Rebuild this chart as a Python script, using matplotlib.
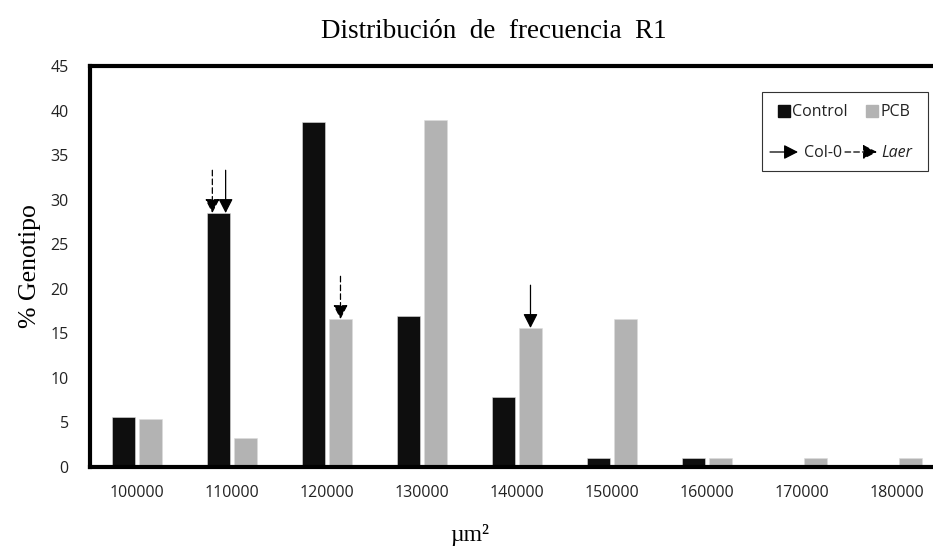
import matplotlib.pyplot as plt
from matplotlib.patches import Rectangle, FancyArrowPatch
import numpy as np

# area classes (um^2) and % of genotype per class
areas = ["100000", "110000", "120000", "130000", "140000",
         "150000", "160000", "170000", "180000"]
control = [5.6, 28.5, 38.7, 16.9, 7.9, 1.0, 1.0, 0.0, 0.0]
pcb = [5.4, 3.3, 16.6, 38.9, 15.6, 16.6, 1.0, 1.0, 1.0]

# arrows marking where each line falls: (class index, series, style, offset)
DASH = (0, (4.5, 2.5))
arrows = [
    (1, "control", DASH, -0.065),
    (1, "control", "solid", 0.075),
    (2, "pcb", DASH, 0.0),
    (4, "pcb", "solid", 0.0),
]

W, H = 933, 548
fig = plt.figure(figsize=(W / 100, H / 100), dpi=100)
ax = fig.add_axes([89.5 / W, 1 - 467 / H, (944.5 - 89.5) / W, (467 - 66) / H])

x = np.arange(len(areas))
off = 0.142
bw = 0.232
ctrl_col = "#0e0e0e"
pcb_col = "#b3b3b3"
ax.bar(x - off, control, bw, color=ctrl_col, edgecolor="#dddddd", linewidth=0.4)
ax.bar(x + off, pcb, bw, color=pcb_col, edgecolor="#dddddd", linewidth=0.4)

vals = {"control": control, "pcb": pcb}
for i, series, style, dx in arrows:
    sx = -off if series == "control" else off
    top = vals[series][i]
    xp = i + sx + dx
    arr = FancyArrowPatch((xp, top + 4.8), (xp, top),
                          arrowstyle="-|>,head_length=0.43,head_width=0.22",
                          mutation_scale=20, color="black", lw=0.9,
                          linestyle=style, shrinkA=0, shrinkB=0)
    ax.add_patch(arr)

ax.set_xlim(-0.5, len(areas) - 0.5)
ax.set_ylim(0, 45)
ax.set_yticks(range(0, 46, 5))
ax.set_xticks(x)
ax.set_xticklabels(areas)
ax.tick_params(length=0, labelsize=11.5, colors="#222222", pad=13)
ax.tick_params(axis="y", pad=15)
for lab in ax.get_xticklabels() + ax.get_yticklabels():
    lab.set_family("Open Sans")
for sp in ax.spines.values():
    sp.set_linewidth(3)
ax.spines["right"].set_visible(False)

ax.set_ylabel("% Genotipo", family="Liberation Serif", fontsize=18.5, labelpad=7)
fig.text(470 / W, 1 - 541 / H, "µm²", family="Liberation Serif", fontsize=17,
         ha="center", va="baseline")
fig.text(494 / W, 1 - 32 / H, "Distribución  de  frecuencia  R1",
         family="Liberation Serif", fontsize=19.5, ha="center", va="center")

# legend box drawn by hand
tf = fig.transFigure
def fx(px): return px / W
def fy(py): return 1 - py / H

fig.patches.append(Rectangle((fx(762), fy(171)), fx(928) - fx(762), (171 - 92) / H,
                             transform=tf, fill=False, edgecolor="#333333", lw=0.8))
fig.patches.append(Rectangle((fx(778), fy(117)), 12 / W, 12 / H, transform=tf,
                             color=ctrl_col))
fig.text(fx(792), fy(112), "Control", family="Open Sans", fontsize=11.5,
         va="center", color="#222222")
fig.patches.append(Rectangle((fx(866), fy(117)), 12 / W, 12 / H, transform=tf,
                             color=pcb_col))
fig.text(fx(881), fy(112), "PCB", family="Open Sans", fontsize=11.5,
         va="center", color="#222222")
for x0, x1, style in [(770, 798, "solid"), (845, 877, DASH)]:
    fig.patches.append(FancyArrowPatch((fx(x0), fy(152)), (fx(x1), fy(152)),
                                       transform=tf,
                                       arrowstyle="-|>,head_length=0.43,head_width=0.22",
                                       mutation_scale=20, color="black", lw=0.9,
                                       linestyle=style, shrinkA=0, shrinkB=0))
fig.text(fx(804), fy(153), "Col-0", family="Open Sans", fontsize=11.5,
         va="center", color="#222222")
fig.text(fx(881), fy(153), "Laer", family="Open Sans", fontsize=11.5,
         style="italic", va="center", color="#222222")

fig.savefig("out.png", dpi=100)
